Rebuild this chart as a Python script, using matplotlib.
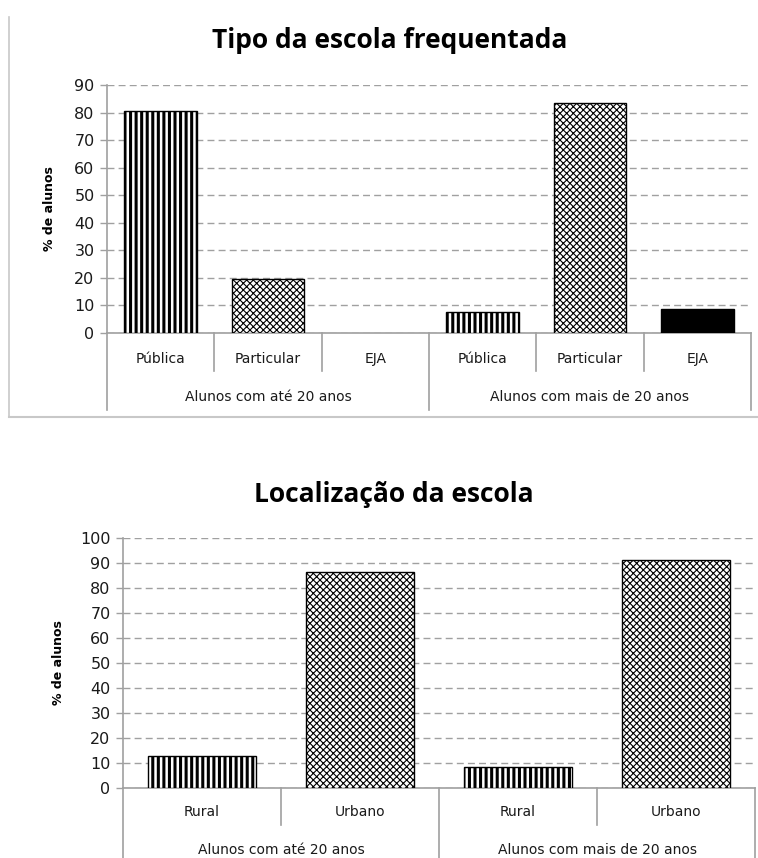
import matplotlib
matplotlib.use('Agg')
import matplotlib.pyplot as plt
from matplotlib.lines import Line2D

# dados
grupos = ['Alunos com até 20 anos', 'Alunos com mais de 20 anos']

tipos = ['Pública', 'Particular', 'EJA']
tipo_ate20 = [80.5, 19.6, 0]
tipo_mais20 = [7.8, 83.3, 8.6]

locais = ['Rural', 'Urbano']
local_ate20 = [12.8, 86.5]
local_mais20 = [8.5, 91.2]

GRAY = '#a0a0a0'


def bar_style(cat):
	# padrao de preenchimento de cada categoria
	if cat in ('Pública', 'Rural'):
		return dict(color='white', hatch='|||', hlw=2.2)
	if cat == 'EJA':
		return dict(color='black', hatch=None, hlw=1.0)
	return dict(color='white', hatch='xxxxx', hlw=0.8)


def draw_chart(ax, cats, ate20, mais20, ymax, sep_short, sep_long, off_cat, off_grp, lpad):
	n = len(cats)
	values = list(ate20) + list(mais20)
	labels = list(cats) + list(cats)
	xs = list(range(len(values)))
	for x, v, c in zip(xs, values, labels):
		st = bar_style(c)
		plt.rcParams['hatch.linewidth'] = st['hlw']
		lw = 1.0 if v > 0 else 0
		bars = ax.bar(x, v, width=0.68, color=st['color'], edgecolor='black',
			linewidth=lw, hatch=st['hatch'], zorder=3)
		for b in bars:
			if hasattr(b, 'set_hatch_linewidth'):
				b.set_hatch_linewidth(st['hlw'])
	ax.set_xlim(-0.5, len(values) - 0.5)
	ax.set_ylim(0, ymax)
	ax.set_yticks(range(0, ymax + 1, 10))
	ax.set_xticks([])
	ax.yaxis.grid(True, linestyle=(0, (5, 3)), color=GRAY, linewidth=1.0)
	ax.set_axisbelow(True)
	for s in ['top', 'right']:
		ax.spines[s].set_visible(False)
	for s in ['left', 'bottom']:
		ax.spines[s].set_color(GRAY)
		ax.spines[s].set_linewidth(1.2)
	ax.tick_params(axis='y', length=5, width=1, color=GRAY, labelsize=11.5,
		labelcolor='#1a1a1a', pad=4)
	ax.set_ylabel('% de alunos', fontsize=9, fontweight='bold', labelpad=lpad)

	trans = ax.get_xaxis_transform()
	# separadores das categorias
	for i in range(len(values) + 1):
		x = i - 0.5
		length = sep_long if i % n == 0 else sep_short
		ax.add_line(Line2D([x, x], [0, -length], transform=trans, color=GRAY,
			linewidth=1.2, clip_on=False))
	for x, c in zip(xs, labels):
		ax.annotate(c, xy=(x, 0), xycoords=trans, xytext=(0, -off_cat),
			textcoords='offset points', ha='center', va='center', fontsize=10,
			color='#1a1a1a')
	for g, grp in enumerate(grupos):
		xc = g * n + (n - 1) / 2.0
		ax.annotate(grp, xy=(xc, 0), xycoords=trans, xytext=(0, -off_grp),
			textcoords='offset points', ha='center', va='center', fontsize=10,
			color='#1a1a1a')


fig = plt.figure(figsize=(7.58, 8.58), dpi=100)
W, H = 758.0, 858.0

ax1 = fig.add_axes([107 / W, 1 - 333 / H, 644 / W, 248 / H])
draw_chart(ax1, tipos, tipo_ate20, tipo_mais20, 90,
	38 / 248.0, 77 / 248.0, 26 * 0.72, 64 * 0.72, 13)

ax2 = fig.add_axes([123 / W, 1 - 788 / H, 632 / W, 250 / H])
draw_chart(ax2, locais, local_ate20, local_mais20, 100,
	37 / 250.0, 90 / 250.0, 24 * 0.72, 62 * 0.72, 11)

fig.text(390 / W, 1 - 40 / H, 'Tipo da escola frequentada', ha='center', va='center',
	fontsize=19, fontweight='bold', family='Open Sans')
fig.text(394 / W, 1 - 495 / H, 'Localização da escola', ha='center', va='center',
	fontsize=19, fontweight='bold', family='Open Sans')

# moldura do primeiro grafico
fig.add_artist(Line2D([9 / W, 9 / W], [1 - 17 / H, 1 - 417 / H], transform=fig.transFigure,
	color='#c8c8c8', linewidth=1.2))
fig.add_artist(Line2D([9 / W, 1.0], [1 - 417 / H, 1 - 417 / H], transform=fig.transFigure,
	color='#c8c8c8', linewidth=1.5))

fig.savefig('out.png', dpi=100, facecolor='white')
